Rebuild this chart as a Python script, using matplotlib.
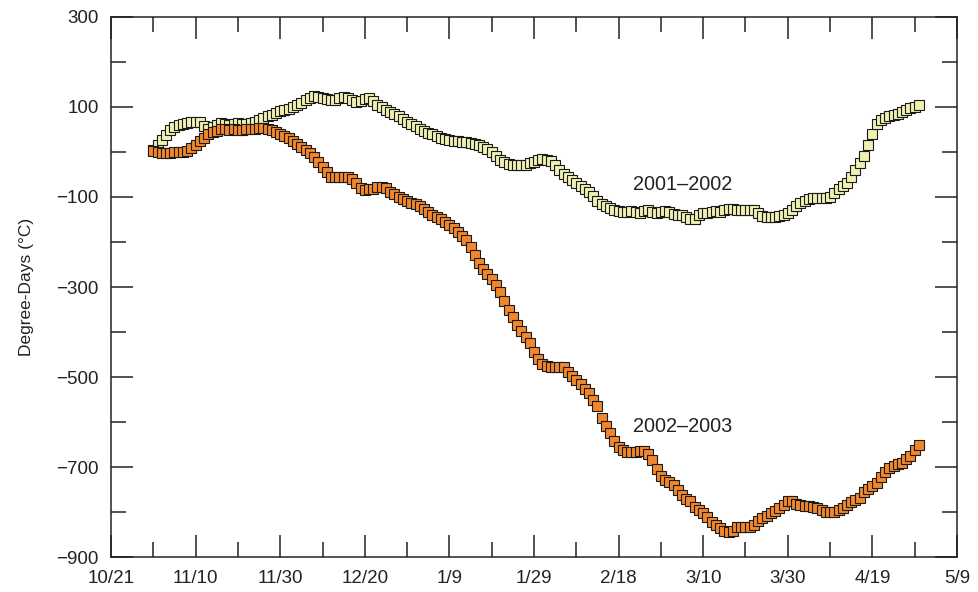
import matplotlib.pyplot as plt
import numpy as np

# days counted from 10/21
start_day = 10
season_0102 = [5, 15, 27, 38, 48, 56, 61, 63, 65, 66,
               67, 66, 58, 52, 55, 60, 64, 63, 61, 62,
               64, 63, 62, 64, 67, 71, 75, 79, 82, 86,
               90, 93, 96, 100, 104, 109, 115, 121, 124, 123,
               119, 117, 116, 116, 119, 123, 121, 116, 112, 114,
               117, 119, 113, 105, 99, 94, 89, 84, 79, 73,
               67, 62, 57, 52, 47, 43, 39, 35, 31, 28,
               26, 25, 24, 23, 22, 20, 18, 16, 12, 7,
               1, -8, -17, -23, -27, -29, -29, -29, -28, -25,
               -22, -18, -16, -17, -21, -30, -40, -49, -56, -63,
               -70, -76, -82, -88, -98, -108, -116, -121, -125, -129,
               -132, -134, -133, -131, -133, -135, -132, -130, -133, -136,
               -134, -132, -134, -137, -139, -141, -145, -150, -148, -140,
               -135, -136, -134, -132, -133, -130, -126, -126, -129, -130,
               -129, -128, -130, -136, -142, -144, -144, -144, -143, -141,
               -136, -128, -119, -113, -108, -104, -103, -103, -103, -102,
               -99, -91, -83, -76, -68, -55, -40, -25, -10, 15,
               40, 62, 72, 76, 79, 82, 85, 89, 93, 97,
               101, 104]
season_0203 = [2, 0, -2, -3, -3, -1, 0, 1, 2, 8,
               16, 24, 32, 40, 44, 47, 50, 50, 49, 50,
               49, 49, 50, 51, 52, 53, 53, 52, 48, 44,
               40, 35, 30, 24, 17, 10, 4, -3, -12, -22,
               -33, -45, -55, -55, -55, -55, -55, -60, -70, -80,
               -84, -83, -82, -78, -78, -81, -88, -94, -100, -105,
               -109, -113, -116, -119, -126, -133, -139, -145, -150, -156,
               -162, -170, -178, -187, -196, -212, -228, -247, -260, -270,
               -282, -296, -310, -330, -350, -366, -384, -398, -410, -425,
               -445, -460, -470, -475, -477, -477, -477, -478, -488, -497,
               -507, -516, -526, -536, -550, -565, -590, -608, -625, -642,
               -655, -662, -666, -666, -666, -664, -664, -672, -685, -704,
               -720, -728, -734, -740, -752, -763, -770, -776, -788, -796,
               -802, -810, -822, -828, -836, -843, -844, -842, -834, -833,
               -833, -833, -828, -820, -814, -809, -803, -797, -792, -784,
               -776, -776, -782, -785, -786, -786, -788, -791, -795, -799,
               -801, -800, -796, -790, -784, -778, -773, -768, -756, -748,
               -742, -735, -722, -710, -702, -698, -694, -690, -683, -675,
               -663, -652]
tick_labels = ['10/21', '11/10', '11/30', '12/20', '1/9', '1/29',
               '2/18', '3/10', '3/30', '4/19', '5/9']

plt.rcParams['font.family'] = ['Liberation Sans', 'DejaVu Sans']

fig = plt.figure(figsize=(9.79, 5.92), dpi=100)
ax = fig.add_axes([0.1134, 0.0591, 0.8641, 0.9122])

days_a = np.arange(start_day, start_day + len(season_0102))
days_b = np.arange(start_day, start_day + len(season_0203))
ax.plot(days_a, season_0102, 's', ms=6.8, mfc='#eff0b2', mec='#1a1a1a', mew=0.8)
ax.plot(days_b, season_0203, 's', ms=6.8, mfc='#f2862a', mec='#1a1a1a', mew=0.8)

ax.set_xlim(0, 200)
ax.set_ylim(-900, 300)
ax.set_xticks(np.arange(0, 201, 20))
ax.set_xticklabels(tick_labels)
ax.set_xticks(np.arange(10, 200, 20), minor=True)
ax.set_yticks(np.arange(-900, 301, 200))
ax.set_yticks(np.arange(-800, 300, 200), minor=True)
ax.set_yticklabels(['\u2212' + str(-v) if v < 0 else str(v) for v in range(-900, 301, 200)])

ax.tick_params(which='both', direction='in', top=True, right=True,
               labelsize=13.5, labelcolor='#222222', width=1.1, color='#222222')
ax.tick_params(which='major', length=16)
ax.tick_params(which='minor', length=11)
ax.tick_params(axis='x', pad=9)
ax.tick_params(axis='y', pad=9)
for s in ax.spines.values():
    s.set_linewidth(1.1)
    s.set_color('#222222')

ax.set_ylabel('Degree-Days (\u00b0C)', fontsize=12.5, color='#222222', labelpad=16)

ax.text(123.4, -73, '2001\u20132002', fontsize=14.3, color='#222222', va='center')
ax.text(123.4, -611, '2002\u20132003', fontsize=14.3, color='#222222', va='center')

fig.savefig('out.png', dpi=100)
